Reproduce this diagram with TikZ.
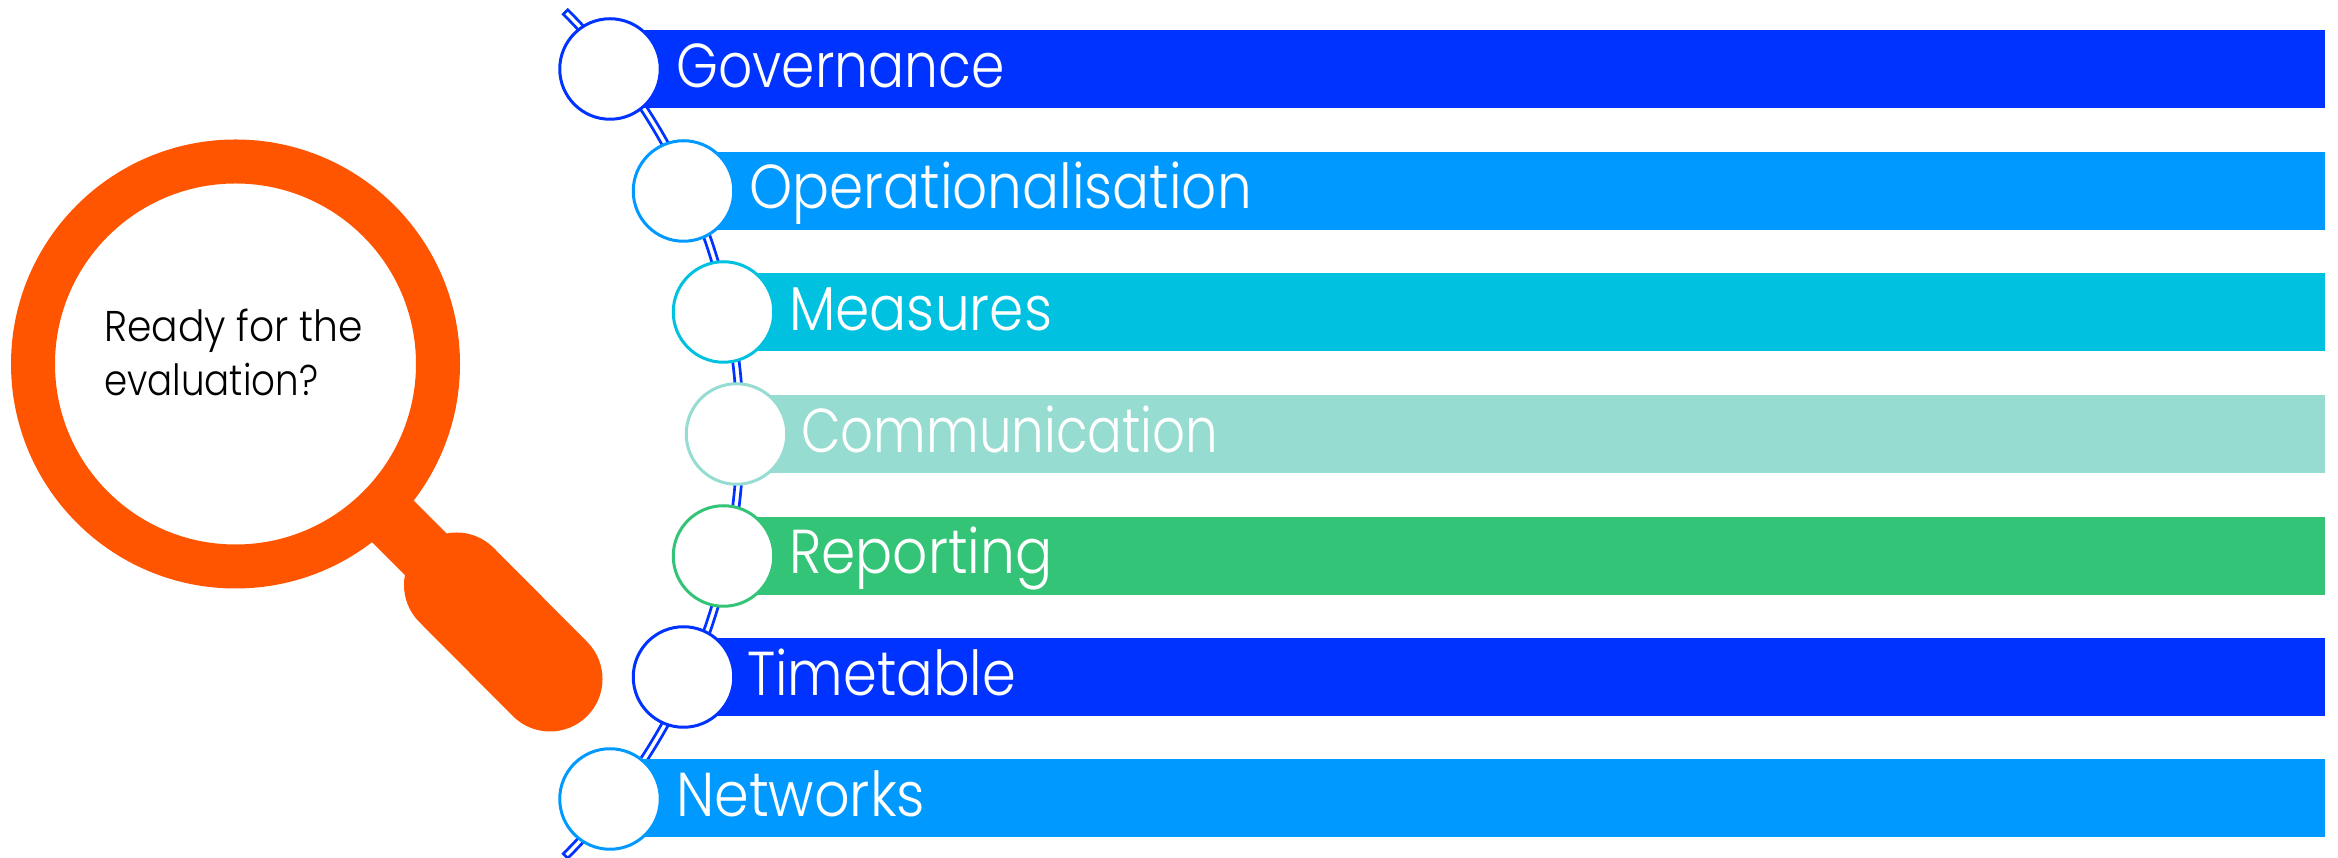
\documentclass[tikz,border=0pt]{standalone}
\usepackage{fontspec}
\setmainfont{Poppins}[UprightFont=* Light]
\definecolor{cblue}{HTML}{0033FF}
\definecolor{csky}{HTML}{0099FF}
\definecolor{ccyan}{HTML}{00C2E0}
\definecolor{cmint}{HTML}{96DCD0}
\definecolor{cgreen}{HTML}{33C477}
\definecolor{corange}{HTML}{FF5500}
\tikzset{
  barbox/.style={draw=none,rectangle,inner sep=0pt,outer sep=0pt,minimum height=78pt,anchor=west},
  ringbox/.style={circle,draw=#1,line width=3pt,fill=white,minimum size=100.5pt,inner sep=0pt},
  barlabel/.style={text=white,anchor=base west,inner sep=0pt,font=\fontsize{62}{74}\selectfont},
  spineline/.style={draw=cblue,fill=white,line width=2.7pt,line join=miter},
}
\begin{document}
\begin{tikzpicture}[x=1pt,y=1pt]
\useasboundingbox (0,0) rectangle (2338,858);
\fill[white] (0,0) rectangle (2338,858);
% spine
\coordinate (sc) at (143.5,424);
\draw[spineline] ([shift={(sc)}]45:600) arc[start angle=45,end angle=-45,radius=600pt]
  -- ([shift={(sc)}]-45:593.6) arc[start angle=-45,end angle=45,radius=593.6pt] -- cycle;
% bars
\node[barbox,fill=cblue,minimum width=1715pt] (b1) at (610,789) {};
\node[barbox,fill=csky,minimum width=1642pt] (b2) at (683,667) {};
\node[barbox,fill=ccyan,minimum width=1602pt] (b3) at (723,546) {};
\node[barbox,fill=cmint,minimum width=1589pt] (b4) at (736,424) {};
\node[barbox,fill=cgreen,minimum width=1602pt] (b5) at (723,302) {};
\node[barbox,fill=cblue,minimum width=1642pt] (b6) at (683,181) {};
\node[barbox,fill=csky,minimum width=1715pt] (b7) at (610,60) {};
% circles
\node[ringbox=cblue] (c1) at (610,789) {};
\node[ringbox=csky] (c2) at (683.5,667) {};
\node[ringbox=ccyan] (c3) at (723.5,546) {};
\node[ringbox=cmint] (c4) at (736.5,424) {};
\node[ringbox=cgreen] (c5) at (723.5,302) {};
\node[ringbox=cblue] (c6) at (683.5,181) {};
\node[ringbox=csky] (c7) at (610,59) {};
% labels
\node[barlabel] (t1) at (676,770) {\scalebox{.864}[1]{Governance}};
\node[barlabel] (t2) at (749,649) {\scalebox{.885}[1]{Operationalisation}};
\node[barlabel] (t3) at (789,527) {\scalebox{.888}[1]{Measures}};
\node[barlabel] (t4) at (801,405) {\scalebox{.83}[1]{Communication}};
\node[barlabel] (t5) at (789,284) {\scalebox{.888}[1]{Reporting}};
\node[barlabel] (t6) at (747,162) {\scalebox{.876}[1]{Timetable}};
\node[barlabel] (t7) at (676,41) {\scalebox{.898}[1]{Networks}};
% magnifier
\coordinate (m) at (235.5,494);
\coordinate (h1) at (456.5,273);
\coordinate (h2) at (550,179);
\draw[corange,line width=59pt] (m) -- (h1);
\draw[corange,line width=105pt,line cap=round] (h1) -- (h2);
\node[circle,draw=corange,line width=44pt,fill=white,minimum size=405pt,inner sep=0pt,
  outer sep=0pt] (lens) at (m) {};
\node[anchor=north west,inner sep=0pt,align=left,font=\fontsize{43}{54}\selectfont] (q) at (104,549) {\scalebox{.912}[1]{Ready for the}\\\scalebox{.865}[1]{evaluation?}};
\end{tikzpicture}
\end{document}
